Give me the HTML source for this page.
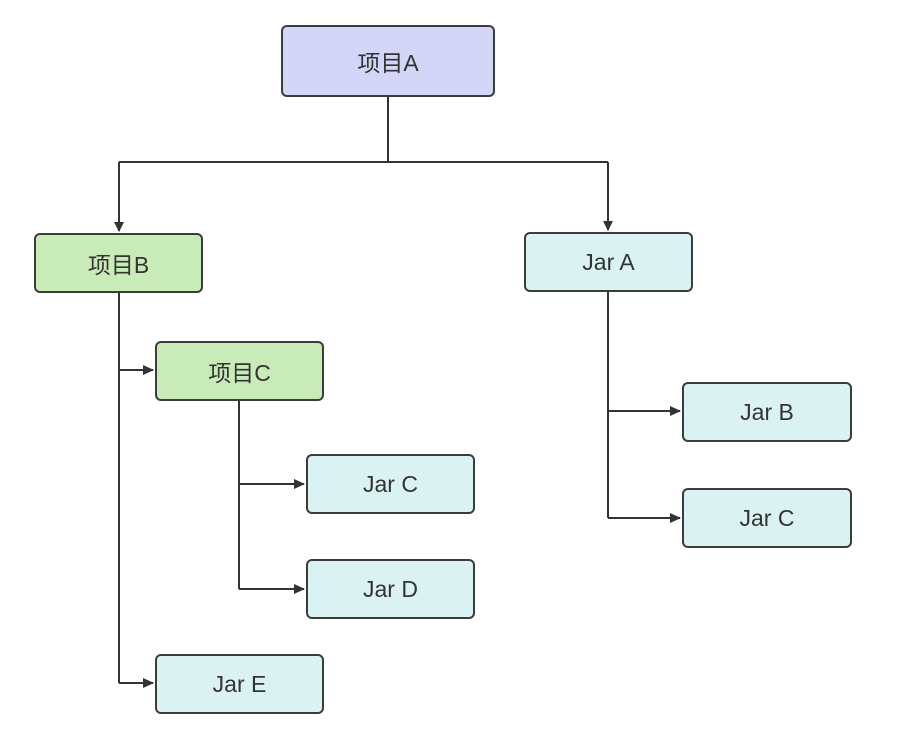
<!DOCTYPE html>
<html><head><meta charset="utf-8"><style>
body{margin:0;background:#fff;width:912px;height:731px;overflow:hidden;position:relative;font-family:"Liberation Sans","Noto Sans CJK SC",sans-serif}
.b{position:absolute;box-sizing:border-box;border:2px solid #3c3c3c;border-radius:6px;display:flex;align-items:center;justify-content:center;font-size:23px;color:#333}
.p{background:#d3d6f7}.g{background:#c9ebb7}.c{background:#daf3f2}
svg{position:absolute;left:0;top:0}
</style></head><body>
<svg width="912" height="731">
<defs><marker id="a" markerWidth="10" markerHeight="10" refX="9" refY="5" orient="auto" markerUnits="userSpaceOnUse"><path d="M0,0 L10,5 L0,10 z" fill="#333"/></marker>
<marker id="d" markerWidth="12" markerHeight="12" refX="10" refY="6" orient="auto" markerUnits="userSpaceOnUse"><path d="M0,1 L11,6 L0,11 z" fill="#333"/></marker></defs>
<g stroke="#333" stroke-width="2" fill="none">
<path d="M388 96 V162 M119 162 H608"/>
<path d="M119 162 V231" marker-end="url(#a)"/>
<path d="M608 162 V230" marker-end="url(#a)"/>
<path d="M119 292 V683"/>
<path d="M119 370 H153" marker-end="url(#d)"/>
<path d="M119 683 H153" marker-end="url(#d)"/>
<path d="M239 400 V589"/>
<path d="M239 484 H304" marker-end="url(#d)"/>
<path d="M239 589 H304" marker-end="url(#d)"/>
<path d="M608 291 V518"/>
<path d="M608 411 H680" marker-end="url(#d)"/>
<path d="M608 518 H680" marker-end="url(#d)"/>
</g></svg>
<div class="b p" style="left:281px;top:25px;width:214px;height:72px">项目A</div>
<div class="b g" style="left:34px;top:233px;width:169px;height:60px">项目B</div>
<div class="b c" style="left:524px;top:232px;width:169px;height:60px">Jar A</div>
<div class="b g" style="left:155px;top:341px;width:169px;height:60px">项目C</div>
<div class="b c" style="left:306px;top:454px;width:169px;height:60px">Jar C</div>
<div class="b c" style="left:306px;top:559px;width:169px;height:60px">Jar D</div>
<div class="b c" style="left:155px;top:654px;width:169px;height:60px">Jar E</div>
<div class="b c" style="left:682px;top:382px;width:170px;height:60px">Jar B</div>
<div class="b c" style="left:682px;top:488px;width:170px;height:60px">Jar C</div>
</body></html>
